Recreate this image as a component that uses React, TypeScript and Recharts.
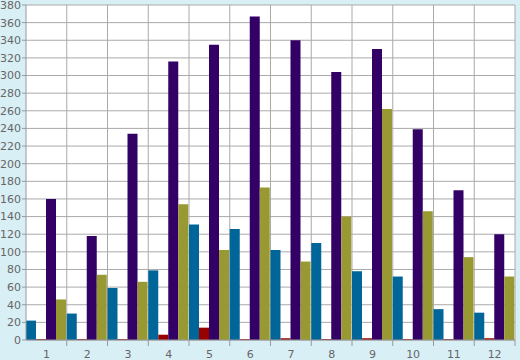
import { BarChart, Bar, XAxis, YAxis, CartesianGrid } from 'recharts';

const categories = ['1', '2', '3', '4', '5', '6', '7', '8', '9', '10', '11', '12'];
const blueValues = [22, 30, 59, 79, 131, 126, 102, 110, 78, 72, 35, 31];
const redValues = [1, 1, 1, 6, 14, 1, 2, 1, 2, 1, 1, 2];
const purpleValues = [160, 118, 234, 316, 335, 367, 340, 304, 330, 239, 170, 120];
const oliveValues = [46, 74, 66, 154, 102, 173, 89, 140, 262, 146, 94, 72];
const yTicks = [0, 20, 40, 60, 80, 100, 120, 140, 160, 180, 200, 220, 240, 260, 280, 300, 320, 340, 360, 380];

const data = categories.map((c, i) => ({
  name: c,
  blue: blueValues[i],
  red: redValues[i],
  purple: purpleValues[i],
  olive: oliveValues[i],
}));

const W = 520;
const H = 360;
const margin = { top: 5, right: 5, left: 0, bottom: 0 };
const yAxisWidth = 26;
const band = (W - yAxisWidth - margin.right) / categories.length;

function XTick(props: any) {
  const { x, y, payload } = props;
  const half = payload && payload.offset ? payload.offset : band / 2;
  const bx = x + half;
  return (
    <g>
      <line x1={bx} y1={y} x2={bx} y2={y + 6} stroke="#999" strokeWidth={1} />
      <text x={x} y={y + 18} textAnchor="middle" fill="#666" fontSize={11} fontFamily="DejaVu Sans">
        {payload.value}
      </text>
    </g>
  );
}

export default function App() {
  return (
    <div style={{ position: 'absolute', left: 0, top: 0, width: W, height: H, background: '#d9eff6' }}>
      <BarChart width={W} height={H} data={data} margin={margin} barCategoryGap={0} barGap={0}>
        <CartesianGrid
          stroke="#aaa"
          fill="#fff"
          verticalCoordinatesGenerator={({ offset }: any) =>
            categories.map((_, i) => offset.left + ((i + 1) * offset.width) / categories.length)
          }
        />
        <XAxis
          dataKey="name"
          height={20}
          stroke="#999"
          tickLine={false}
          tickSize={0}
          tickMargin={0}
          tick={<XTick />}
          interval={0}
        />
        <YAxis
          width={yAxisWidth}
          domain={[0, 380]}
          ticks={yTicks}
          interval={0}
          stroke="#999"
          tickSize={4}
          tickMargin={1}
          tick={{ fill: '#666', fontSize: 11, fontFamily: 'DejaVu Sans' }}
        />
        <Bar dataKey="blue" fill="#006699" isAnimationActive={false} />
        <Bar dataKey="red" fill="#990000" isAnimationActive={false} />
        <Bar dataKey="purple" fill="#330066" isAnimationActive={false} />
        <Bar dataKey="olive" fill="#999933" isAnimationActive={false} />
      </BarChart>
    </div>
  );
}
